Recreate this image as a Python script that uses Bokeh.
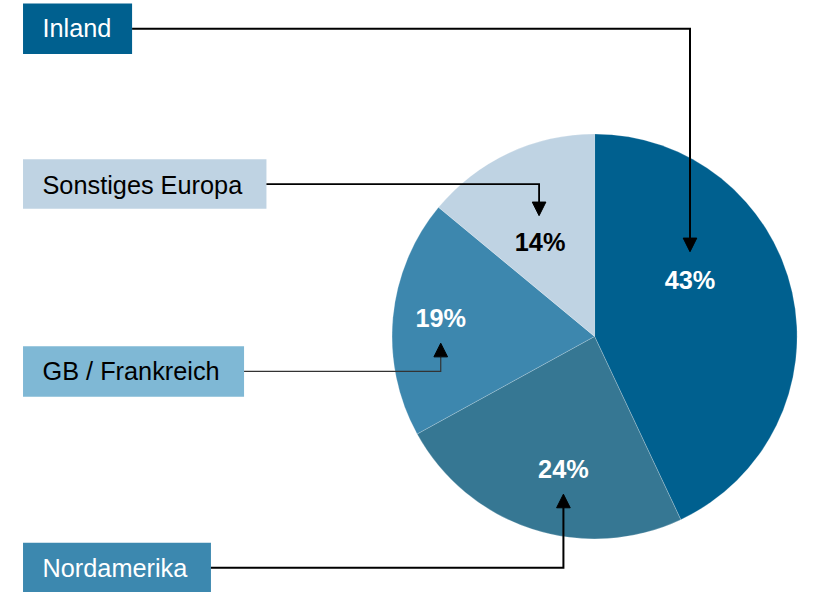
import numpy as np
from bokeh.plotting import figure
from bokeh.models import Range1d, ColumnDataSource, Arrow, NormalHead
from bokeh.core.properties import value
from bokeh.embed import file_html
from bokeh.resources import INLINE

# ---- data ----
categories = ["Inland", "Nordamerika", "GB / Frankreich", "Sonstiges Europa"]
shares = [43, 24, 19, 14]
pct_labels = ["43%", "24%", "19%", "14%"]

# ---- styles ----
slice_colors = ["#00608F", "#367793", "#3D87AE", "#BFD3E3"]
box_colors = ["#00608F", "#3C88AF", "#7FB8D5", "#BFD3E3"]
box_text_colors = ["white", "white", "black", "black"]
pct_text_colors = ["white", "white", "white", "black"]
conn_colors = ["black", "black", "#333333", "black"]
head_colors = ["black", "black", "black", "black"]
conn_widths = [2, 2, 1.2, 1.8]
FONT = "Liberation Sans"

# ---- layout (reference pixels, y downwards) ----
W, H = 801, 592
S = H / 608.0            # scale of reference space into the figure
X0 = -5 / S              # left edge of visible reference space
CX, CY, R = 605, 345, 208
pct_x = [703, 573, 447, 549]
pct_mid = [287, 481, 326, 248]
box_left = [18, 18, 18, 18]
box_top = [3, 557, 355, 163]
box_right = [130, 211, 245, 268]
box_bottom = [55, 608, 407, 214]
label_x = [38, 38, 38, 38]
label_mid = [28, 583, 380, 189]
arrow_x = [703, 573, 447, 548]
arrow_tip = [258, 507, 352, 221]
HEAD = 14

def Y(v):
    return -np.asarray(v, dtype=float)

def px(n):
    return "%.1fpx" % (n * S)

p = figure(width=W, height=H, output_backend="svg", toolbar_location=None,
           x_range=Range1d(X0, X0 + W / S), y_range=Range1d(-H / S, 0),
           min_border=0, x_axis_location=None, y_axis_location=None,
           outline_line_color=None, background_fill_color="white")
p.grid.visible = False

# pie slices (clockwise from 12 o'clock)
frac = np.array(shares, dtype=float) / sum(shares)
cum = np.concatenate([[0], np.cumsum(frac)])
start = np.pi / 2 - 2 * np.pi * cum[:-1]
end = np.pi / 2 - 2 * np.pi * cum[1:]
src = ColumnDataSource(dict(cat=categories, start=start, end=end, color=slice_colors))
p.wedge(x=CX, y=-CY, radius=R, start_angle="start", end_angle="end",
        direction="clock", fill_color="color", line_color="white",
        line_width=0.6, line_alpha=0.35, source=src)

# percentage labels
p.text(x=pct_x, y=Y(pct_mid), text=pct_labels, text_color=pct_text_colors,
       text_font=value(FONT), text_font_size=px(26), text_font_style="bold",
       text_align="center", text_baseline="middle")

# category boxes
p.quad(left=box_left, right=box_right, top=Y(box_top), bottom=Y(box_bottom),
       fill_color=box_colors, line_color=None)
p.text(x=label_x, y=Y(label_mid), text=categories, text_color=box_text_colors,
       text_font=value(FONT), text_font_size=px(26),
       text_align="left", text_baseline="middle")

# connectors with arrow heads
for i in range(len(categories)):
    hy = (box_top[i] + box_bottom[i]) / 2.0
    direction = 1 if arrow_tip[i] > hy else -1
    base = arrow_tip[i] - direction * HEAD
    xs = [box_right[i], arrow_x[i], arrow_x[i]]
    ys = list(Y([hy, hy, base]))
    p.line(xs, ys, line_color=conn_colors[i], line_width=conn_widths[i], line_join="miter")
    p.add_layout(Arrow(end=NormalHead(size=HEAD * S, fill_color=head_colors[i],
                                      line_color=head_colors[i], line_width=1),
                       x_start=arrow_x[i], y_start=-base, x_end=arrow_x[i], y_end=-arrow_tip[i],
                       line_color=conn_colors[i], line_width=conn_widths[i]))

open("out.html", "w").write(file_html(p, INLINE))
